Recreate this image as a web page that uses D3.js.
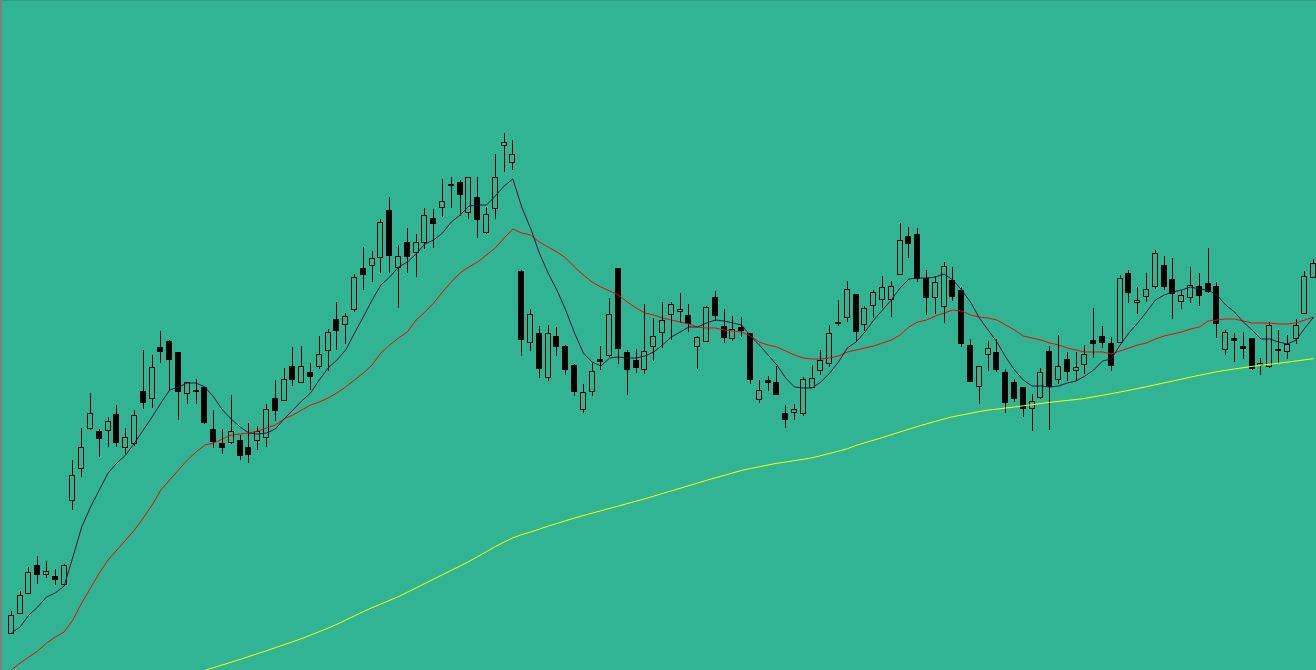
<!DOCTYPE html>
<html>
<head>
<meta charset="utf-8">
<script src="https://cdn.jsdelivr.net/npm/d3@7"></script>
<style>
  html, body { margin: 0; padding: 0; background: #30b494; overflow: hidden; }
  svg { display: block; }
</style>
</head>
<body>
<svg id="chart" width="1316" height="670"></svg>
<script>
// ---- Data (price units) ----
const opens = [367,387,407,435,426,424,416,500,532,572,569,570,586,553,557,609,602,653,659,648,607,610,613,571,557,558,560,553,560,563,602,600,634,618,628,634,650,681,676,691,732,735,743,790,733,758,748,758,782,793,816,818,788,803,768,792,855,838,729,658,667,623,664,654,635,591,609,641,645,732,648,640,631,654,668,686,689,685,654,659,703,674,662,673,667,601,620,618,587,588,587,613,630,637,678,683,706,676,695,701,701,726,764,766,722,703,694,720,710,655,614,646,648,628,618,613,592,603,649,621,641,630,636,660,664,657,658,727,698,704,714,735,721,699,703,714,717,714,651,662,654,662,635,634,651,649,662,687,723];
const highs = [389,409,433,444,439,431,436,540,572,607,571,583,595,572,590,650,645,669,660,648,618,621,613,590,571,605,565,577,574,596,620,632,653,654,637,664,671,698,687,726,753,749,781,803,755,772,766,792,791,821,823,820,823,823,793,846,867,860,730,691,674,675,673,655,636,616,637,654,702,732,650,651,696,682,698,698,707,696,664,694,709,691,684,683,667,620,624,634,595,596,623,635,650,675,700,719,706,694,710,724,719,777,773,772,730,724,738,733,713,661,634,659,661,631,621,613,606,632,654,665,648,648,655,692,674,663,725,730,713,727,750,744,742,710,733,727,752,718,670,667,668,662,642,678,670,665,681,729,741];
const lows = [367,387,407,417,423,416,416,491,524,571,544,554,554,547,555,592,593,638,611,581,597,597,577,553,547,557,541,538,551,554,580,600,615,618,611,632,630,651,657,689,711,719,728,728,693,728,724,752,753,784,793,785,782,763,767,782,829,831,645,650,623,620,645,626,605,588,605,631,644,637,606,628,627,640,653,661,678,669,632,659,680,658,660,664,617,598,610,606,573,581,585,613,626,634,675,679,660,670,683,693,684,726,743,719,686,687,678,700,654,619,597,630,629,588,599,584,570,602,571,617,620,620,627,643,653,630,658,698,687,699,712,711,682,692,698,695,708,663,646,639,642,631,626,633,638,642,657,687,723];
const closes = [385,405,428,426,429,421,435,525,553,587,562,579,558,563,585,598,633,649,641,609,618,609,578,559,553,569,545,546,569,591,590,621,621,634,624,646,668,670,684,723,726,742,778,745,744,744,758,785,777,799,815,806,823,781,786,823,858,846,661,686,632,667,654,631,609,608,629,639,686,652,631,633,649,664,680,696,691,677,663,693,685,663,671,670,621,610,618,606,581,591,621,622,640,667,677,711,669,692,708,713,714,760,757,722,703,718,734,704,657,619,634,652,631,598,602,592,599,628,614,634,629,633,646,657,658,635,722,708,700,711,747,714,707,705,715,705,709,677,668,660,652,632,637,675,650,656,675,724,737];

// Fast moving average (dark line)
const fastMA = [367,373,385,393,403,407,414,443,473,493,510,527,537,545,557,570,583,597,610,613,617,617,613,603,590,581,573,567,566,567,571,581,590,599,607,620,632,640,650,667,683,700,715,723,733,738,746,756,760,767,778,785,794,795,795,804,814,821,793,772,747,727,710,690,667,647,638,634,642,643,642,642,644,648,655,663,668,673,673,677,680,679,677,675,664,655,645,635,622,613,612,612,618,627,638,652,658,668,680,690,700,712,721,722,722,723,726,720,710,698,682,670,658,643,630,620,614,614,613,614,617,619,624,630,639,641,655,667,677,688,700,705,708,710,713,711,710,705,695,688,678,670,661,661,658,656,660,672,683];
// Medium moving average (red line)
const midMA = [330,337,343,349,357,363,368,380,397,412,427,440,450,460,470,482,495,510,520,530,540,548,555,557,561,565,566,567,569,572,575,581,585,590,595,598,602,607,613,620,627,635,647,655,662,668,680,688,697,708,718,727,733,738,745,752,762,771,767,765,758,753,748,742,733,725,718,713,709,705,698,692,687,685,682,680,678,676,673,672,672,670,669,668,664,658,655,653,649,645,642,641,641,642,644,648,650,652,654,657,660,665,673,678,680,684,687,690,689,685,683,682,680,675,670,664,662,660,657,655,652,650,648,648,648,646,649,652,655,657,661,664,666,668,671,673,679,680,681,681,679,677,677,677,676,676,677,680,683];
// Slow moving average (yellow line); earlier values lie below the visible range
const slowMA = [null,null,null,null,null,null,null,null,null,null,null,null,null,null,null,null,null,null,null,null,null,null,
  329.7,332.4,335.1,337.8,340.6,343.5,346.4,349.2,352.3,355.3,358.3,361.4,364.9,368.4,371.9,375.7,379.9,384.1,388.4,392.3,396.0,399.7,403.4,407.7,412.1,416.5,420.9,425.3,429.7,434.0,438.5,443.4,448.4,453.4,458.0,462.2,465.4,467.9,470.9,473.8,476.5,479.3,482.0,484.5,486.9,489.2,491.6,494.0,496.4,498.8,501.2,503.8,506.5,509.1,511.7,514.3,517.0,519.7,522.2,524.6,527.1,529.6,531.5,533.2,535.0,536.7,538.0,539.4,540.7,542.2,544.4,546.6,548.8,551.3,554.6,557.3,559.8,562.5,565.3,568.1,570.8,573.6,576.1,578.6,581.1,583.3,585.0,586.7,588.5,589.9,590.9,592.0,593.0,594.2,595.3,596.5,597.7,598.6,599.6,600.5,601.6,603.2,604.7,606.3,608.0,609.7,611.5,613.3,615.2,617.1,619.0,620.9,622.9,624.7,626.5,628.3,629.7,631.0,632.3,633.6,634.7,635.7,636.8,637.8,639.0,640.2,641.4];

// ---- Chart ----
const W = 1316, H = 670;
const BG = "#30b494";
const svg = d3.select("#chart");

svg.append("rect").attr("width", W).attr("height", H).attr("fill", BG);

const candles = opens.map((o, i) => ({ i, o, h: highs[i], l: lows[i], c: closes[i] }));

const x = d3.scaleLinear().domain([0, candles.length - 1]).range([11.3, 1313.7]);
const y = d3.scaleLinear().domain([330, 1000]).range([H, 0]);

const px = i => Math.floor(x(i)) + 0.5;

const g = svg.append("g");

// wicks
g.selectAll("line.wick").data(candles).join("line")
  .attr("class", "wick")
  .attr("x1", d => px(d.i)).attr("x2", d => px(d.i))
  .attr("y1", d => Math.round(y(d.h))).attr("y2", d => Math.round(y(d.l)) + 1)
  .attr("stroke", "#000").attr("stroke-width", 1)
  .attr("shape-rendering", "crispEdges");

// bodies
g.selectAll("rect.body").data(candles).join("rect")
  .attr("class", "body")
  .attr("x", d => px(d.i) - 3)
  .attr("width", 5)
  .attr("y", d => Math.round(y(Math.max(d.o, d.c))) + 0.5)
  .attr("height", d => Math.max(0.01, Math.round(y(Math.min(d.o, d.c))) - Math.round(y(Math.max(d.o, d.c)))))
  .attr("fill", d => d.c >= d.o ? BG : "#000")
  .attr("stroke", "#000").attr("stroke-width", 1)
  .attr("shape-rendering", "crispEdges");

// moving averages
const line = d3.line()
  .defined(v => v !== null)
  .x((v, i) => x(i))
  .y(v => y(v));

svg.append("path").datum(slowMA).attr("d", line)
  .attr("fill", "none").attr("stroke", "#ffff00").attr("stroke-width", 1);
svg.append("path").datum(midMA).attr("d", line)
  .attr("fill", "none").attr("stroke", "#ff0000").attr("stroke-width", 1);
svg.append("path").datum(fastMA).attr("d", line)
  .attr("fill", "none").attr("stroke", "#3a0f3a").attr("stroke-width", 1);

// frame
svg.append("line").attr("x1", 0).attr("x2", W).attr("y1", 0.5).attr("y2", 0.5)
  .attr("stroke", "#2a9f84").attr("stroke-width", 1);
svg.append("line").attr("x1", 1).attr("x2", 1).attr("y1", 0).attr("y2", H)
  .attr("stroke", "#808080").attr("stroke-width", 2);
</script>
</body>
</html>
